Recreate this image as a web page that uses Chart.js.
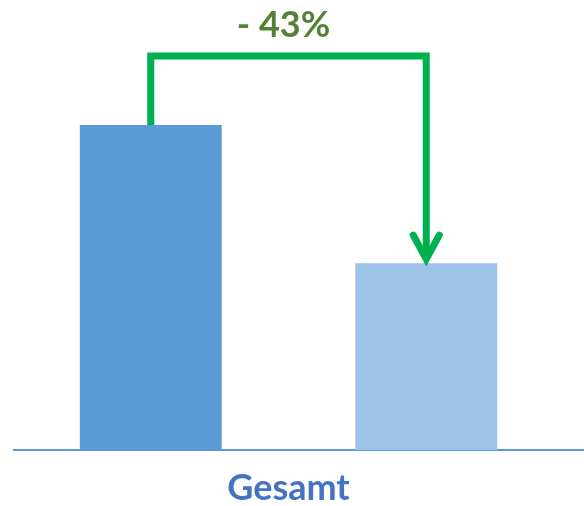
<!DOCTYPE html>
<html lang="de">
<head>
<meta charset="UTF-8">
<title>Gesamt</title>
<script src="https://cdn.jsdelivr.net/npm/chart.js"></script>
<style>
  html, body { margin: 0; padding: 0; background: #fff; }
  .box { width: 584px; height: 506px; position: relative; }
</style>
</head>
<body>
<div class="box">
  <canvas id="chart"></canvas>
</div>
<script>
// data
const categories = ['Gesamt']
const before = [100]
const after = [57.5]
const changeText = '- 43%'

const ctx = document.getElementById('chart')

// baseline under the bars, full width to the right edge
const baseline = {
  id: 'baseline',
  beforeDatasetsDraw(chart) {
    const c = chart.ctx
    const y = chart.scales.y.getPixelForValue(0)
    c.save()
    c.strokeStyle = '#5B9BD5'
    c.lineWidth = 2
    c.beginPath()
    c.moveTo(chart.chartArea.left, y)
    c.lineTo(chart.width, y)
    c.stroke()
    c.restore()
  }
}

// green bracket arrow from first bar to second bar
const arrow = {
  id: 'arrow',
  afterDatasetsDraw(chart) {
    const c = chart.ctx
    const b1 = chart.getDatasetMeta(0).data[0]
    const b2 = chart.getDatasetMeta(1).data[0]
    const top = b1.y - 69
    const tip = b2.y - 2
    c.save()
    c.strokeStyle = '#00B050'
    c.lineWidth = 7
    c.lineJoin = 'miter'
    c.beginPath()
    c.moveTo(b1.x, b1.y)
    c.lineTo(b1.x, top)
    c.lineTo(b2.x, top)
    c.lineTo(b2.x, tip - 4)
    c.stroke()
    c.lineCap = 'round'
    c.beginPath()
    c.moveTo(b2.x - 13, tip - 26)
    c.lineTo(b2.x, tip - 2)
    c.lineTo(b2.x + 13, tip - 26)
    c.stroke()

    c.fillStyle = '#538135'
    c.font = 'bold 36px Lato'
    c.textAlign = 'center'
    c.textBaseline = 'alphabetic'
    c.fillText(changeText, (b1.x + b2.x) / 2 - 5, 37)
    c.restore()
  }
}

new Chart(ctx, {
  type: 'bar',
  data: {
    labels: categories,
    datasets: [
      { label: 'Vorher', data: before, backgroundColor: '#5B9BD5' },
      { label: 'Nachher', data: after, backgroundColor: '#9DC3E6' }
    ]
  },
  options: {
    responsive: true,
    maintainAspectRatio: false,
    animation: false,
    layout: { padding: { top: 125, left: 13, right: 20, bottom: 0 } },
    datasets: { bar: { categoryPercentage: 1, barPercentage: 0.515 } },
    plugins: { legend: { display: false }, tooltip: { enabled: false } },
    scales: {
      x: {
        grid: { display: false },
        border: { display: false },
        afterFit(scale) { scale.height = 56 },
        ticks: { color: '#4472C4', padding: 8.5, font: { family: 'Lato', size: 36, weight: 'bold' } }
      },
      y: { display: false, min: 0, max: 100 }
    }
  },
  plugins: [baseline, arrow]
})
</script>
</body>
</html>
